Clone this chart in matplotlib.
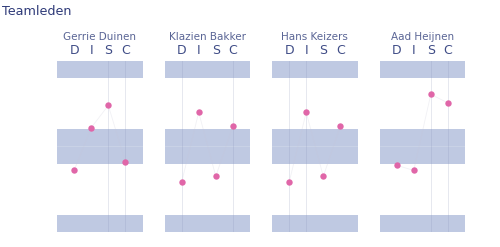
import numpy as np
import matplotlib.pyplot as plt

names = ["Gerrie Duinen", "Klazien Bakker", "Hans Keizers", "Aad Heijnen"]
letters = ["D", "I", "S", "C"]
scores = [
    [-28, 22, 48, -18],
    [-42, 40, -35, 24],
    [-42, 40, -35, 24],
    [-22, -28, 61, 51],
]
# faint vertical guides per member (index into letters)
guides = [[2, 3], [0, 3], [0, 1], [2, 3]]

band_col = "#bfc9e2"
dot_col = "#e066a8"
text_col = "#5a6595"
title_col = "#2e3a78"

fig = plt.figure(figsize=(5, 2.47), dpi=100)
fig.text(0.005, 0.955, "Teamleden", fontsize=9.2, color=title_col,
         ha="left", va="center", fontweight="medium")

left0, width, step = 0.114, 0.171, 0.215
bottom, height = 0.061, 0.692

for i, name in enumerate(names):
    ax = fig.add_axes([left0 + i * step, bottom, width, height])
    ax.set_xlim(0, 5)
    ax.set_ylim(-100, 100)
    for lo, hi in [(80, 100), (-20, 20), (-100, -80)]:
        ax.axhspan(lo, hi, color=band_col, lw=0, zorder=1)
    ax.axhline(0, color="white", lw=0.6, alpha=0.2, zorder=2)
    x = np.arange(1, 5)
    for g in guides[i]:
        ax.axvline(x[g], color="#8a94b8", lw=0.6, alpha=0.25, zorder=2)
    ax.plot(x, scores[i], color="#c8c8d8", lw=0.6, alpha=0.25, zorder=3)
    ax.plot(x, scores[i], "o", color=dot_col, ms=4.6, mec="none", zorder=4)
    for j, l in enumerate(letters):
        ax.text(x[j], 1.06, l, transform=ax.get_xaxis_transform(),
                ha="center", va="center", fontsize=9, color="#3f4c86")
    ax.text(0.5, 1.14, name, transform=ax.transAxes, ha="center",
            va="center", fontsize=7.5, color=text_col)
    ax.axis("off")

fig.savefig("out.png", dpi=100)
